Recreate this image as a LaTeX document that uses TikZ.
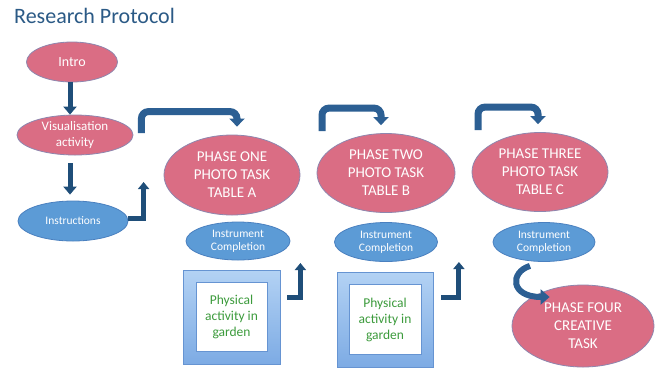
\documentclass[tikz,border=0pt]{standalone}
\usepackage{fontspec}
\setmainfont{Carlito}
\usetikzlibrary{shapes.geometric,arrows.meta,calc}
\definecolor{pinkfill}{HTML}{DA6D84}
\definecolor{pinkline}{HTML}{8E86AE}
\definecolor{bluefill}{HTML}{5C9BD6}
\definecolor{blueline}{HTML}{4A80BF}
\definecolor{navy}{HTML}{1F4E79}
\definecolor{arrowblue}{HTML}{2C5F93}
\definecolor{titleblue}{HTML}{2B5A86}
\definecolor{greentext}{HTML}{3C9B3C}
\definecolor{frameA}{HTML}{B3D2F4}
\definecolor{frameB}{HTML}{7DABE4}
\definecolor{frameline}{HTML}{6694D2}
\begin{document}
\begin{tikzpicture}[x=1pt,y=-1pt,
  pinknode/.style={ellipse, draw=pinkline, line width=0.8pt, fill=pinkfill, text=white,
    inner sep=0pt, align=center, font=\fontsize{15}{18}\selectfont},
  bluenode/.style={ellipse, draw=blueline, line width=0.8pt, fill=bluefill, text=white,
    inner sep=0pt, align=center, font=\fontsize{11.5}{13}\selectfont},
  vline/.style={draw=navy, line width=5pt, -{Triangle[width=13pt,length=8pt]}},
  bent/.style={draw=arrowblue, line width=7pt, rounded corners=7pt, -{Triangle[width=15pt,length=8pt]}},
  elbow/.style={draw=navy, line width=5pt, -{Triangle[width=11pt,length=7pt]}},
  curvearrow/.style={draw=arrowblue, line width=6pt, -{Triangle[width=15pt,length=9pt]}},
  frame/.style={rectangle, draw=frameline, line width=0.6pt, top color=frameA, bottom color=frameB,
    inner sep=0pt},
  gardenbox/.style={rectangle, draw=frameline, line width=0.5pt, fill=white, text=greentext,
    inner sep=0pt, align=center, font=\fontsize{13.5}{16}\selectfont},
]
\useasboundingbox (0,0) rectangle (655,368);
\fill[white] (0,0) rectangle (655,368);

\node[font=\fontsize{22}{26}\selectfont, text=titleblue, anchor=west, inner sep=0pt] (title) at (14,16) {Research Protocol};

% left column
\node[pinknode, minimum width=91pt, minimum height=40pt, font=\fontsize{14}{16}\selectfont] (intro) at (72,62) {Intro};
\node[pinknode, minimum width=116pt, minimum height=40pt, font=\fontsize{13}{16}\selectfont] (vis) at (75,135) {Visualisation\\activity};
\node[bluenode, minimum width=110pt, minimum height=40pt] (instr) at (73,221) {Instructions};

% phases
\node[pinknode, minimum width=136pt, minimum height=80pt] (p1) at (232,175) {PHASE ONE\\PHOTO TASK\\TABLE A};
\node[pinknode, minimum width=138pt, minimum height=79pt] (p2) at (386,173) {PHASE TWO\\PHOTO TASK\\TABLE B};
\node[pinknode, minimum width=136pt, minimum height=79pt] (p3) at (540,172) {PHASE THREE\\PHOTO TASK\\TABLE C};
\node[pinknode, minimum width=142pt, minimum height=82pt] (p4) at (583,326) {PHASE FOUR\\CREATIVE\\TASK};

% instrument completion
\node[bluenode, minimum width=104pt, minimum height=38pt] (ic1) at (238,241) {Instrument\\Completion};
\node[bluenode, minimum width=103pt, minimum height=39pt] (ic2) at (386,242) {Instrument\\Completion};
\node[bluenode, minimum width=102pt, minimum height=39pt] (ic3) at (544,242) {Instrument\\Completion};

% garden boxes
\node[frame, minimum width=97pt, minimum height=94pt] (g1) at (231.5,317) {};
\node[gardenbox, minimum width=71pt, minimum height=69pt] (g1in) at (g1.center) {Physical\\activity in\\garden};
\node[frame, minimum width=96pt, minimum height=95pt] (g2) at (385,319.5) {};
\node[gardenbox, minimum width=72pt, minimum height=70pt] (g2in) at (g2.center) {Physical\\activity in\\garden};

% vertical arrows
\draw[vline] ($(intro.south)+(-2,0)$) -- ($(vis.north)+(-5,0)$);
\draw[vline] ($(vis.south)+(-5,8)$) -- ($(instr.north)+(-3,-6)$);

% elbow from instructions
\coordinate (e0s) at ($(instr.east)+(0,-3)$);
\coordinate (e0t) at ($(p1.west)+(-20,7)$);
\draw[elbow] (e0s) -| (e0t);

% top bent arrows
\coordinate (s1) at ($(vis.east)+(8,-2)$);
\coordinate (t1) at ($(p1.north)+(5,-8)$);
\draw[bent] (s1) |- ($(t1)+(0,-15)$) -- (t1);
\coordinate (s2) at ($(p2.north)+(-64,-2)$);
\coordinate (t2) at ($(p2.north)+(-5,-8)$);
\draw[bent] (s2) |- ($(t2)+(0,-17)$) -- (t2);
\coordinate (s3) at ($(p3.north)+(-62,-2)$);
\coordinate (t3) at ($(p3.north)+(-2,-8)$);
\draw[bent] (s3) |- ($(t3)+(0,-17)$) -- (t3);

% small elbow arrows after garden
\coordinate (e1s) at ($(g1.east)+(7,-20)$);
\coordinate (e1t) at ($(ic1.east)+(10,22)$);
\draw[elbow] (e1s) -| (e1t);
\coordinate (e2s) at ($(g2.east)+(8,-22)$);
\coordinate (e2t) at ($(ic2.east)+(21,20)$);
\draw[elbow] (e2s) -| (e2t);

% curved arrow to phase four
\coordinate (c0) at ($(ic3.south)+(-14,4)$);
\coordinate (c1) at ($(p4.west)+(38,-29)$);
\draw[curvearrow] (c0) .. controls ($(c0)+(-20,6)$) and ($(c1)+(-40,0)$) .. (c1);
\end{tikzpicture}
\end{document}
